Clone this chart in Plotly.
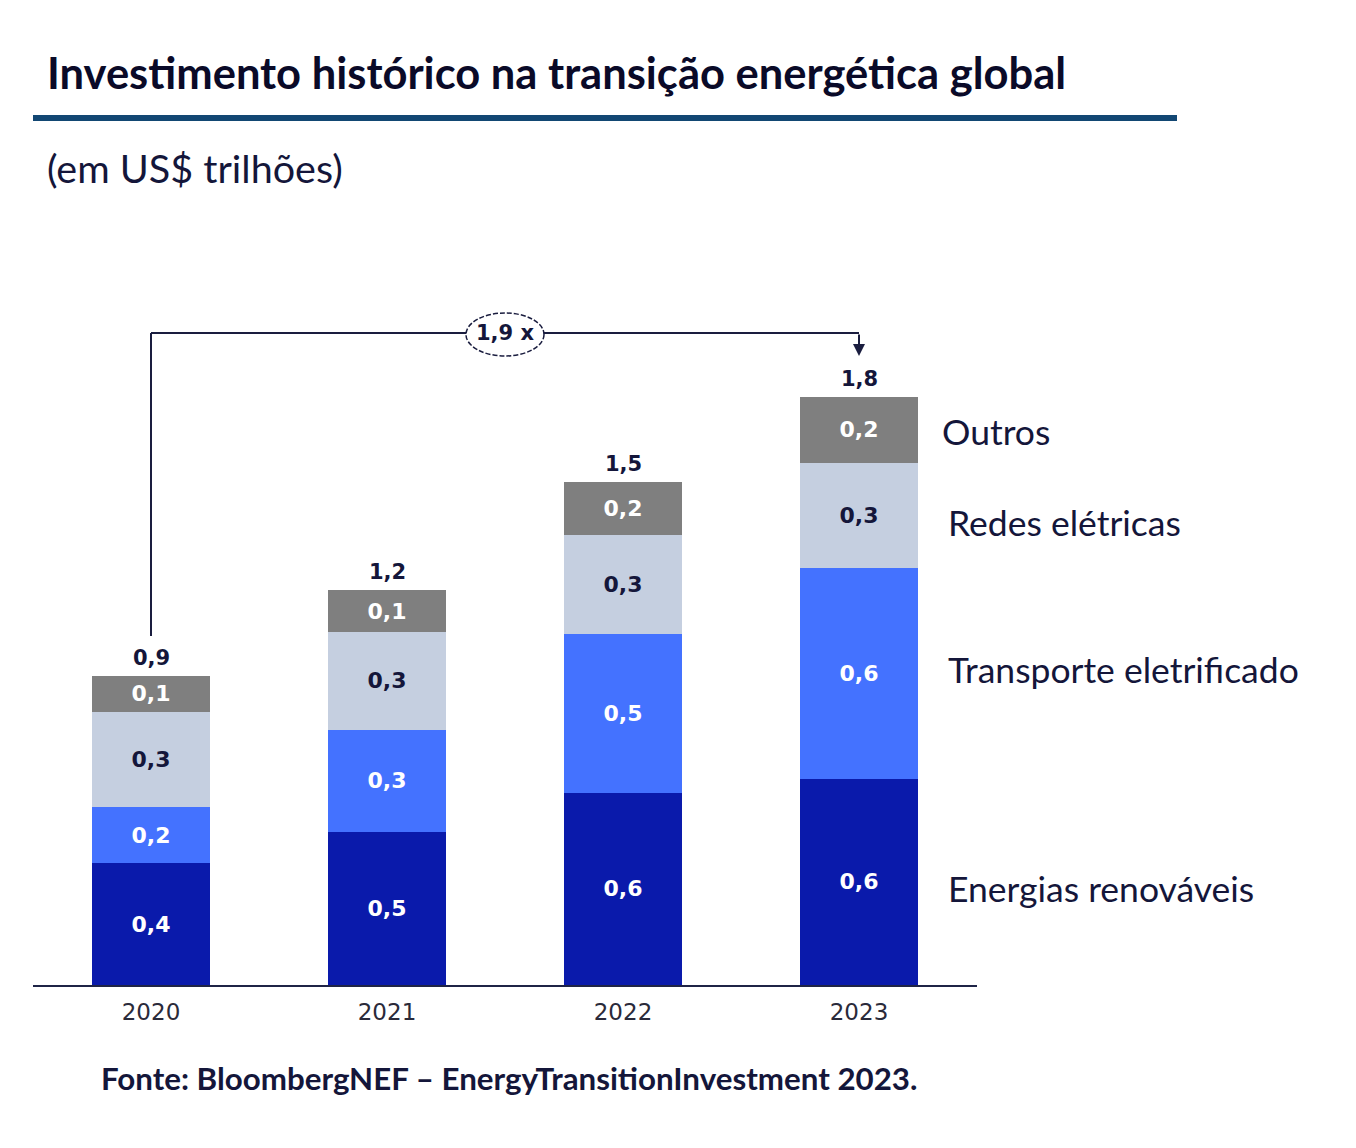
import plotly.graph_objects as go

# ---- data (US$ trillions) ----
years = ["2020", "2021", "2022", "2023"]
renovaveis = [0.365, 0.46, 0.577, 0.62]
transporte = [0.17, 0.306, 0.477, 0.633]
redes = [0.285, 0.294, 0.297, 0.315]
outros = [0.108, 0.126, 0.159, 0.198]

renovaveis_lbl = ["0,4", "0,5", "0,6", "0,6"]
transporte_lbl = ["0,2", "0,3", "0,5", "0,6"]
redes_lbl = ["0,3", "0,3", "0,3", "0,3"]
outros_lbl = ["0,1", "0,1", "0,2", "0,2"]
total_lbl = ["0,9", "1,2", "1,5", "1,8"]

series_names = ["Energias renováveis", "Transporte eletrificado", "Redes elétricas", "Outros"]
colors = ["#0A1AAB", "#4472FF", "#C5CFE0", "#7F7F7F"]
text_colors = ["white", "white", "#14163A", "white"]

W, H = 1356, 1148
L, R, T, B = 33, 977, 300, 985
PXU = 333.0
ymax = (B - T) / PXU

def px(xp):
    return (xp - L) / (R - L)

def py(yp):
    return (B - yp) / (B - T)

def dy(yp):
    return (B - yp) / PXU

def dx(xp):
    return (xp - L) / ((R - L) / 4) - 0.5

fig = go.Figure()
for vals, lbls, name, col, tc in zip(
    [renovaveis, transporte, redes, outros],
    [renovaveis_lbl, transporte_lbl, redes_lbl, outros_lbl],
    series_names, colors, text_colors):
    fig.add_trace(go.Bar(
        x=years, y=vals, name=name, marker=dict(color=col, line=dict(width=0)),
        text=lbls, textposition="inside", insidetextanchor="middle",
        textfont=dict(family="DejaVu Sans", size=22, color=tc, weight="bold"),
        constraintext="none", width=0.5, hoverinfo="skip"))

totals = [a + b + c + d for a, b, c, d in zip(renovaveis, transporte, redes, outros)]
for i, (t, lbl) in enumerate(zip(totals, total_lbl)):
    fig.add_annotation(x=i, y=t, xref="x", yref="y", text=lbl, showarrow=False, yanchor="bottom",
                       yshift=4, font=dict(family="DejaVu Sans", size=21, color="#14163A", weight="bold"))

line_col = "#1A1D3F"
# bracket 2020 -> 2023
ytop = dy(333)
fig.add_shape(type="line", xref="x", yref="y", x0=0, x1=0, y0=dy(636), y1=ytop,
              line=dict(color=line_col, width=2))
fig.add_shape(type="line", xref="x", yref="y", x0=0, x1=3, y0=ytop, y1=ytop,
              line=dict(color=line_col, width=2))
fig.add_annotation(x=3, y=dy(356), ax=3, ay=ytop, xref="x", yref="y", axref="x", ayref="y",
                   text="", showarrow=True, arrowhead=2, arrowsize=1.2, arrowwidth=2, arrowcolor=line_col)
fig.add_shape(type="circle", xref="x", yref="y", x0=dx(466), x1=dx(544), y0=dy(356), y1=dy(313),
              line=dict(color=line_col, width=1.5, dash="5px,2px"), fillcolor="white", layer="above")
fig.add_annotation(x=1.5, y=ytop, xref="x", yref="y", text="1,9 x", showarrow=False,
                   font=dict(family="DejaVu Sans", size=21, color="#14163A", weight="bold"))

# title, rule, subtitle
fig.add_annotation(xref="paper", yref="paper", x=px(45), y=py(72), xanchor="left", yanchor="middle",
                   text="<b>Investimento histórico na transição energética global</b>", showarrow=False,
                   font=dict(family="Lato", size=43.5, color="#0A0A28"))
fig.add_shape(type="line", xref="paper", yref="paper", x0=0, x1=px(1177), y0=py(118), y1=py(118),
              line=dict(color="#124773", width=6))
fig.add_annotation(xref="paper", yref="paper", x=px(45), y=py(168), xanchor="left", yanchor="middle",
                   text="(em US$ trilhões)", showarrow=False,
                   font=dict(family="Lato", size=39.5, color="#14163A"))

# series labels on the right
legend_pos = [(946, 888), (946, 669), (946, 522), (940, 431)]
for name, (xp, yp) in zip(series_names, legend_pos):
    fig.add_annotation(xref="paper", yref="paper", x=px(xp), y=py(yp), xanchor="left", yanchor="middle",
                       text=name, showarrow=False, font=dict(family="Lato", size=35.5, color="#14163A"))

# source
fig.add_annotation(xref="paper", yref="paper", x=px(509), y=py(1078), xanchor="center", yanchor="middle",
                   text="<b>Fonte: BloombergNEF – EnergyTransitionInvestment 2023.</b>", showarrow=False,
                   font=dict(family="Lato", size=31.3, color="#14163A"))

fig.update_layout(
    barmode="stack", width=W, height=H, showlegend=False,
    margin=dict(l=L, r=W - R, t=T, b=H - B, pad=0),
    paper_bgcolor="white", plot_bgcolor="white",
    xaxis=dict(range=[-0.5, 3.5], showline=True, linecolor="#1F2446", linewidth=2, ticks="",
               showgrid=False, zeroline=False, ticklabelstandoff=5,
               tickfont=dict(family="DejaVu Sans", size=23, color="#2A2A3A")),
    yaxis=dict(range=[0, ymax], visible=False, showgrid=False, zeroline=False),
)
fig.write_html("out.html")
